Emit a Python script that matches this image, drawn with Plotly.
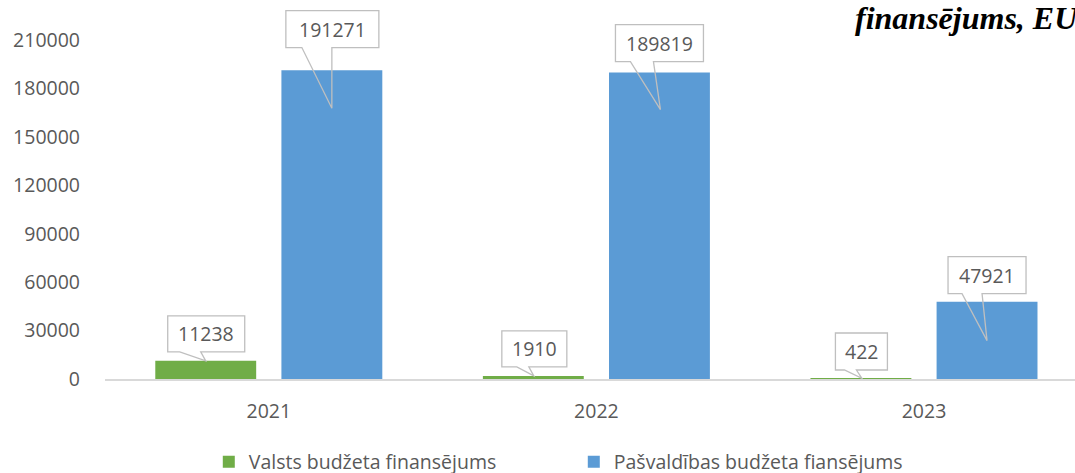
import plotly.graph_objects as go

years = ["2021", "2022", "2023"]
valsts = [11238, 1910, 422]
pasvaldibas = [191271, 189819, 47921]
series_names = ["Valsts budžeta finansējums", "Pašvaldības budžeta fiansējums"]
colors = ["#70AD47", "#5B9BD5"]
y_ticks = [0, 30000, 60000, 90000, 120000, 150000, 180000, 210000]
title_text = "finansējums, EUR"

# callout layout (pixels, relative to bar centre / bar top)
# per series, per year: (box dx, box width, box bottom above top, box height, wedge left, wedge right, tip x, tip depth)
callouts = [
    [(0.5, 77, 9, 36, -26, -5, 0, 0),
     (1, 65, 9, 36, -16.5, -4.5, 0.5, 0),
     (0.5, 52, 8.3, 37, -16.5, -4.5, 1, 0)],
    [(0.5, 93, 22.7, 37, -30, 0, 0, 38),
     (0, 88, 11, 37, -29, -6, 1, 37),
     (0, 78, 8, 37, -25, -5, 0, 39)],
]

FONT = "Open Sans"
TXT = "#595959"
BORDER = "#BFBFBF"
BARGAP = 0.23
GROUPGAP = 0.2
# plot area spans full top of figure; axis scale: 210000 sits 339 px above the baseline
Y_MAX = max(y_ticks) * 379 / 339

fig = go.Figure()
xs = list(range(len(years)))
for name, vals, col in zip(series_names, [valsts, pasvaldibas], colors):
    fig.add_trace(go.Bar(x=xs, y=vals, name=name, marker=dict(color=col, line=dict(width=0))))

slot = (1 - BARGAP) / 2
offsets = [-slot / 2, slot / 2]
shapes = []
annotations = []
for s, vals in enumerate([valsts, pasvaldibas]):
    for i, v in enumerate(vals):
        dx, W, b, H, wl, wr, tx, t = callouts[s][i]
        cx = i + offsets[s]
        L, R = dx - W / 2, dx + W / 2
        common = dict(xref="x", yref="y", xsizemode="pixel", ysizemode="pixel", xanchor=cx, yanchor=v)
        shapes.append(dict(type="rect", x0=L, x1=R, y0=b, y1=b + H, fillcolor="white",
                           line=dict(width=0), **common))
        path = (f"M{wl},{b} L{L},{b} L{L},{b + H} L{R},{b + H} L{R},{b} L{wr},{b} "
                f"L{tx},{-t} Z")
        shapes.append(dict(type="path", path=path, fillcolor="rgba(0,0,0,0)",
                           line=dict(color=BORDER, width=1.3), **common))
        annotations.append(dict(x=cx, y=v, xref="x", yref="y", text=str(v), showarrow=False,
                                xshift=dx, yshift=b + H / 2, yanchor="middle", xanchor="center",
                                font=dict(family=FONT, size=19.5, color=TXT)))

annotations.append(dict(xref="paper", yref="paper", x=0.771, y=0.9525,
                        xanchor="left", yanchor="middle",
                        text=f"<b><i>{title_text}</i></b>", showarrow=False,
                        font=dict(family="Liberation Serif", size=32, color="black")))

fig.update_layout(
    width=1075, height=473,
    margin=dict(l=105, r=0, t=0, b=94, autoexpand=False),
    paper_bgcolor="white", plot_bgcolor="white",
    barmode="group", bargap=BARGAP, bargroupgap=GROUPGAP,
    font=dict(family=FONT, size=19.5, color=TXT),
    showlegend=True,
    legend=dict(orientation="h", x=0.107, y=-0.219, xanchor="left", yanchor="middle",
                entrywidth=320, font=dict(family=FONT, size=19.5, color=TXT)),
    shapes=shapes,
    annotations=annotations,
)
fig.update_xaxes(range=[-0.5, 2.461], tickvals=xs, ticktext=years, showgrid=False, zeroline=False,
                 showline=True, linecolor="#D9D9D9", linewidth=1.5, ticks="", ticklabelstandoff=14,
                 fixedrange=True, automargin=False)
fig.update_yaxes(range=[0, Y_MAX], tickvals=y_ticks, ticktext=[str(v) for v in y_ticks],
                 showgrid=False, zeroline=False, showline=False,
                 ticks="", ticklabelstandoff=24, fixedrange=True, automargin=False)

fig.write_html("out.html", config={"displayModeBar": False},
               post_script="document.body.style.margin='0';document.body.style.overflow='hidden';")
